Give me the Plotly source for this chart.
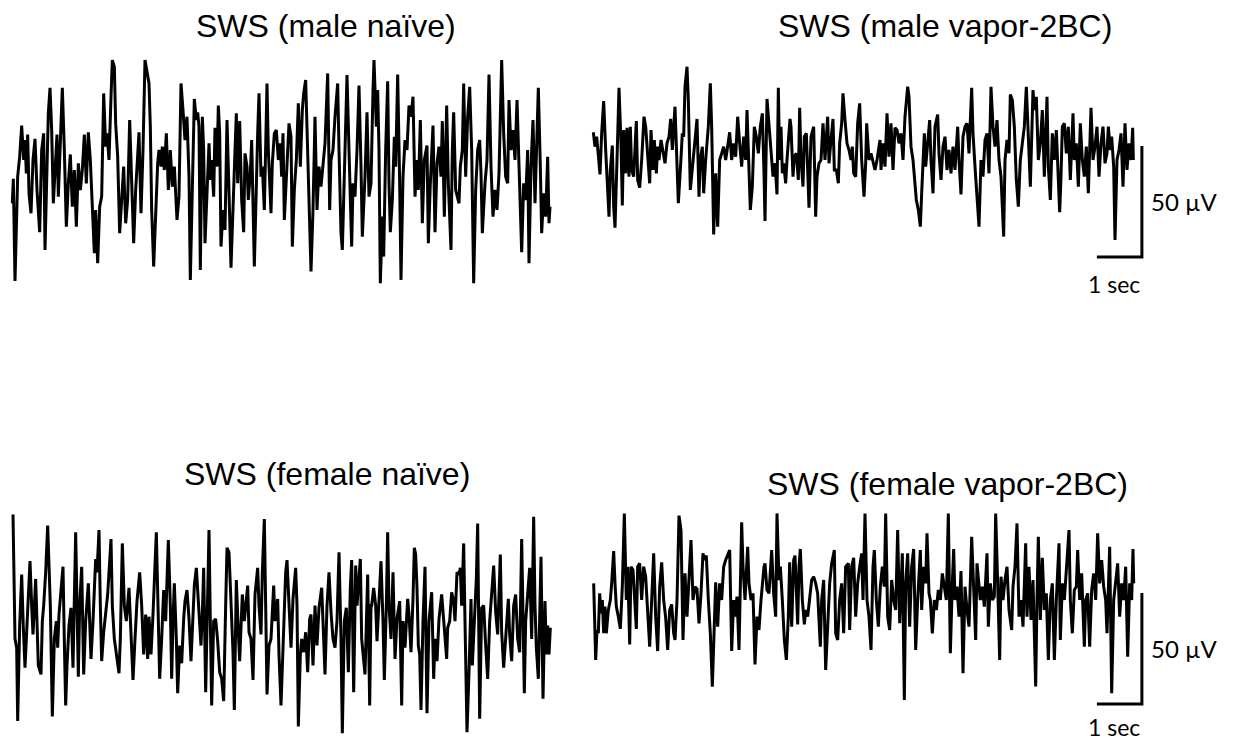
import numpy as np
import plotly.graph_objects as go

FS = 135.0

# ---------------- SWS (male naive) ----------------
male_naive_idx = [1,4,9,17,23,29,35,39,43,47,51,57,63,69,75,83,89,95,99,105,109,114,119,124,129,135,139,144,151,157,
163,169,175,181,187,193,199,205,211,217,223,229,235,241,247,251,257,263,269,275,281,285,291,297,301,307,311,317,323,329,
335,341,347,353,359,365,371,377,381,387,393,399,405,411,415,419,425,431,437,441,447,451,457,463,469,475,481,487,491,495,
501,507,513,519,525,531,535,541,547,
553,557,561,565,571,575,579,585,591,595,599,605,609,615,619,623,627,633,639,645,649,653,657,663,667,673,677,683,689,695,
699,705,709,715,719,727,731,737,741,747,751,757,765,769,777,781,787,793,799,805,809,813,817,825,831,837,841,847,853,859,
865,871,875,881,885,891,897,903,909,915,921,927,933,939,947,953,957,963,969,977,981,987,991,999,1005,1011,1019,1023,1029,1035,
1041,1047,1051,1059,1065,1071,1077,1083,1086,
1093,1097,1101,1105,1111,1115,1121,1127,1131,1135,1141,1147,1151,1157,1163,1167,1173,1179,1185,1191,1197,1203,1209,1215,1219,1225,1231,1237,1245,1249,
1255,1263,1269,1275,1281,1287,1291,1297,1304,1309,1317,1321,1325,1331,1341,1345,1351,1355,1361,1367,1373,1379,1385,1391,1397,1403,1407,1411,1419,1425,
1431,1437,1443,1449,1455,1461,1469,1475,1481,1487,1491,1497,1503,1509,1515,1519,1525,1529,1535,1541,1547,1551,1557,1563,1569,1575,1579,1585,1589,1595,
1601,1607,1611,1614]
male_naive_uv = [-15,-4,-50,-3,6,20,4.5,13.5,-1.5,16,-10.5,-19.5,4.5,14,-9,-28,9,16.5,-36,6,25.5,37,18,-15,-1.5,16,-12,10.5,37,9,
-25.5,-6,7,-16.5,0,-25.5,3,-9,0,16,-6,17,4.5,-16.5,-37.5,-18,-42,-16.5,-12,34.5,10.5,16.5,4.5,33,49.5,46.5,21,6,-28.5,-13.5,
1.5,-24,-13.5,22.5,-10.5,-33,-9,4.5,17,-19.5,9,49.5,45,39,19.5,-18,-43.5,-18,3,9,1.5,10.5,0,16.5,-9,9,-7.5,1.5,-15,-22.5,
-12,39,27,13.5,24,-3,-49.5,-3,32,
22.5,26,19.5,-45,24,9,-33,-7.5,12,-4.5,4.5,-12,19,1.5,29,16.5,-34.5,-18,-27,22.5,4.5,-21,-44,-12,0,25.5,-6,22,-13.5,-28,
7.5,1.5,-13.5,-1.5,13.5,-43.5,-13.5,16.5,34.5,-3,1.5,-18,39,9,-19.5,3,16.5,18,4.5,12,-3,16.5,-22.5,6,21,15,-34.5,-9,4.5,30,
1.5,27,34.5,40.5,19.5,-6,-45.75,-18,24,-18,1.5,-7.5,4.5,12,43.5,-18,4.5,9,24,39,9,-28.5,-36,16.5,42.75,9,-34.5,-6,-12,9,
38,1.5,-30,-3,26,-12,-6,36,49.5,
19.5,36,9,-51,-21,-39,9,40,-6,-28,-13.5,15,1.5,43,-6,-49.5,-3,13.5,9,29,24,33,-12,4.5,-9,22.5,-24,4.5,11,-33,
-6,20,-28,3,10.5,-3,22,-21,29,-6,-36,9,26,-9,-15,1.5,9,39,-3,24,37.5,9,-51,-9,9,13.5,-1.5,-28.5,-6,4.5,
43,1.5,-21,-9,-18,-1.5,49.5,16.5,-3,-6,31.5,9,18,4.5,31.5,9,-24,-37,-6,-13.5,9,-42,1.5,22.5,-15,24,37,1.5,-28.5,-10.5,
-21,6,-24,-16.5]

# ---------------- SWS (male vapor-2BC) ----------------
male_vapor_idx = [4,9,14,19,24,29,35,41,45,51,55,61,65,69,75,81,87,91,95,101,105,111,115,119,125,129,133,137,143,149,
156,161,167,173,177,183,187,193,197,201,207,213,219,225,231,236,241,249,253,259,265,271,275,279,285,289,295,301,307,315,
321,325,331,335,341,349,355,359,365,371,377,383,389,395,401,407,413,419,425,431,437,443,449,455,461,465,469,475,481,487,
493,499,505,511,516,519,525,531,537,543,
549,555,559,563,567,571,575,581,585,594,597,603,607,613,619,623,627,633,637,643,647,651,657,665,671,675,681,687,693,699,
707,711,717,723,727,733,739,743,749,753,759,765,771,777,781,785,791,797,803,809,816,821,824,831,837,843,849,855,864,867,
873,879,885,891,897,903,909,915,921,927,933,939,947,951,957,963,969,973,979,985,989,997,1001,1007,1013,1017,1023,1029,1037,1041,
1047,1053,1059,
1065,1071,1077,1083,1089,1097,1101,1107,1113,1119,1125,1131,1139,1143,1149,1155,1161,1167,1173,1179,1185,1191,1197,1203,1209,1215,1221,1227,1235,1239,
1245,1251,1255,1261,1267,1273,1279,1285,1291,1297,1303,1309,1315,1323,1327,1333,1339,1345,1351,1357,1365,1369,1375,1381,1387,1393,1403,1407,1411,1417,
1423,1429,1435,1443,1447,1453,1459,1465,1471,1477,1483,1489,1497,1503,1509,1515,1521,1527,1533,1539,1545,1549,1555,1559,1565,1569,1575,1581,1587,1593,
1599,1605,1611,1617,1622,1624]
male_vapor_uv = [8,1.5,6,-4.5,-11,7.5,22,0,-15,-30,-9,2,-25.5,-35,-4.5,28,3,-25,9,-10.5,10,-12,10.5,-9,-12,1.5,13,-13.5,-17,-4.5,
15,10.5,-1.5,-15,9,-9,4.5,-10.5,1.5,-4.5,4.5,0,-6,3,6,14,0,19.5,4.5,-24,-9,7.5,6,28.5,37.5,22.5,-18,-7.5,3,14,
-21,-4.5,1.5,-19.5,-4.5,10.5,30,10.5,-38,-10.5,-34.5,-4.5,-1.5,1.5,-4.5,3,8,-4.5,3,-3,15,3,-7.5,6,-4.5,18,-4.5,-27,-16.5,10.5,
6,-1.5,10.5,16.5,-10.5,-32,23,10.5,-1.5,-12,
-6,-20,28,-4.5,10.5,-10.5,-6,-15,-4.5,14,10.5,-12,-3,-1.5,-13.5,19,-4.5,-16.5,6,7.5,-9,-26,6,10.5,-30,-12,-6,-4.5,12,-4.5,
15,-6,4.5,14,-9,-9,-15,3,12,25.5,13.5,3,0,-4.5,1.5,-10.5,-12,12,21,-4.5,-21,-6,12,-4.5,-1.5,-6,-9,-4.5,4.5,-9,
3,-7.5,16.5,-3,12,-9,10,9,3,7.5,-4.5,15,28.5,24,1.5,-4.5,-13.5,-22.5,-27,-34.5,-19.5,7.5,-7.5,4.5,13.5,-4.5,-19.5,10.5,16,-1.5,
-13.5,1.5,6,
-9,0,-10.5,1.5,-9,10.5,-4.5,-20,6,10.5,12,-1.5,28,7.5,-7.5,-24,-34.5,-4.5,-12,4.5,7.5,-10.5,28.5,10.5,1.5,13.5,-4.5,-12,-39,-4.5,
4.5,-1.5,25,22.5,10.5,-13.5,-25.5,-4.5,3,10.5,28.5,3,-16.5,27,18,24,-4.5,3,18,-12,24,-7.5,-22.5,7.5,-4.5,9,-28,-12,10.5,12,
-1.5,10.5,-13.5,16.5,-4.5,3,-16.5,12,-4.5,-12,1.5,-19.5,19,-4.5,1.5,10.5,-12,3,10.5,-6,-1.5,10.5,0,6,-7.5,-40.5,-4.5,0,7.5,-16.5,
12,-9,3,-4.5,10,-4.5]

# ---------------- SWS (female naive) ----------------
female_naive_idx = [3,9,14,17,23,29,34,39,43,47,54,59,63,71,75,79,87,91,95,101,107,111,115,121,127,133,137,141,153,157,
161,165,171,177,183,191,195,199,203,209,215,221,229,237,243,251,255,261,265,269,275,283,287,297,301,307,313,321,325,331,
337,343,351,357,363,369,375,383,389,395,401,407,411,417,423,433,439,443,449,455,461,469,475,479,483,487,493,497,503,509,
515,519,525,531,537,543,547,
553,559,567,571,575,581,587,591,595,599,605,611,617,623,629,635,641,645,651,657,663,667,673,679,683,691,697,707,711,717,
723,729,737,741,747,751,757,761,765,771,777,785,789,797,801,807,813,821,825,831,837,843,851,855,859,865,869,875,881,887,
893,897,903,909,915,921,929,935,939,945,951,957,963,969,975,981,987,991,997,1003,1009,1015,1019,1025,1031,1035,1045,1049,1059,1067,
1073,1077,
1079,1085,1091,1095,1101,1107,1113,1117,1123,1127,1131,1137,1143,1149,1155,1163,1169,1173,1179,1187,1191,1197,1203,1207,1211,1215,1219,1223,1227,1233,
1239,1245,1251,1259,1265,1269,1275,1281,1289,1295,1304,1307,1313,1319,1325,1329,1335,1341,1345,1349,1355,1359,1365,1371,1377,1381,1387,1393,1397,1403,
1409,1415,1421,1427,1433,1441,1445,1451,1457,1465,1469,1475,1481,1489,1493,1499,1505,1511,1517,1523,1529,1537,1541,1547,1553,1559,1565,1569,1573,1579,
1587,1593,1599,1603,1607,1611,1615]
female_naive_uv = [52,-4,-8,-41,2,25,1,-17,-4,7,31,11,-2,23,7,-16,-20,4,11,26,47,26,11,-39,-4,4,-8,7,28.5,-5,
-34,-16,2,10,-17,44,11,-21,11,28.5,-20,4,21,-13,4,32,26,45,11,-14,-1,11,16,41,11,-4,-10,-19.5,-4,39,
11,4,19,-4,-22.5,-4,13,26,11,-11,7,-13,6,-11,7,44,11,-22,-4,18,4,40.5,11,-22,4,21,-4,-28.5,-7,-15,
5,13,18,5,-14,11,20,
28,11,-7,7,28,-28,11,45,4,-34,4,5,-5,-19,-22,-32,11,37,35,11,-10,-36,22.5,-1,-14,16,4,20,-1,-4,
-22.5,16,28,11,-2,26,50,11,-29,-7,-4,20,4,14,-11,-34,-4,26,31.5,8,-8,14,28,11,-43.5,-11,-4,-10,-1,-19,
5,7,-16,11,-7,10,19,-4,-20,11,26,8,-4,-8,4,35,-4,-46.5,4,10,-19,19,31.5,-28,29,11,32,-4,-20,25,
-34,11,
11,19,11,-5,11,31,4,-22.5,11,44,11,-4,26,-13,5,13,-34,4,-8,14,7,-10,14,37,34,19,-7,-11,-36,4,
28.5,-37.5,4,17,-22,-4,-14,5,16,4,-13,1,4,17,13,4,26,25,28,11,39,4,-46,-19,14,-16,4,23,48,-40,
10,11,-7,-22,4,23,29,8,-2,34,-1,-17,-4,14,-2,-14,11,16,-4,-10,41,-28.5,4,16,28,-4,51,11,-8,-22,
33,-31,13,-11,2,-11,1]

# ---------------- SWS (female vapor-2BC) ----------------
female_vapor_idx = [5,11,15,19,23,27,31,35,39,43,49,55,59,65,69,73,79,85,91,97,103,107,113,117,123,129,133,137,143,149,
155,161,167,173,179,185,191,197,203,209,215,221,227,233,239,245,249,255,261,267,273,279,285,291,297,303,309,315,321,327,
333,337,343,349,355,361,367,371,377,383,389,395,401,409,413,419,425,429,435,441,449,453,459,467,471,477,483,489,495,501,
507,516,519,525,531,539,543,
545,551,555,561,565,571,577,583,589,593,599,605,609,617,621,625,631,637,641,647,653,659,665,671,677,685,689,695,701,707,
713,719,727,731,737,743,749,755,761,769,773,779,785,791,797,803,809,813,819,825,831,837,843,847,853,859,865,871,877,881,
887,893,899,905,911,917,923,931,937,941,947,953,959,965,971,977,985,989,995,1001,1005,1011,1015,1021,1027,1033,1039,1045,1051,1057,
1063,1069,1075,1081,1085,
1089,1095,1101,1107,1113,1119,1125,1131,1139,1143,1151,1155,1159,1165,1171,1177,1185,1189,1195,1201,1207,1211,1217,1223,1227,1233,1239,1245,1251,1259,
1263,1269,1275,1281,1287,1293,1301,1305,1311,1317,1323,1331,1335,1339,1345,1351,1357,1363,1369,1375,1381,1387,1393,1401,1405,1411,1417,1423,1431,1435,
1441,1447,1453,1457,1463,1469,1477,1481,1487,1493,1499,1505,1511,1517,1523,1529,1535,1541,1545,1553,1559,1565,1571,1577,1583,1589,1595,1601,1607,1613,
1619,1623,1625]
female_vapor_uv = [7.5,-27,-13.5,-15,3,-6,0,-15,-3,-15,-4.5,0,7.5,22,7.5,-3,-7.5,-13,6,39,0,15,-20,15,13.5,-4.5,-13,15,16.5,0,
15,10.5,-4.5,-21,0,21,-7.5,-23,6,17,0,-8,-22.5,-4.5,-2,-15,-18,0,38,31.5,-18,12,-7.5,7.5,27,0,6,5,-10.5,3,
21,18,20,0,-15,-39,-7.5,8,-12,7.5,0,15,18,21,22.5,-23,0,-7.5,1.5,-22.5,35,15,0,24,7.5,0,3,-29,-7.5,-13.5,
0,15,16.5,4.5,3,22.5,7.5,
3,-7.5,39,9,15,0,-18,-27,-7.5,17,-12,18,20,-11,15,23,0,-11,-4.5,-7.5,0,9,10.5,7.5,3,-21,0,9,-31.5,-15,
7.5,16.5,22.5,-15,-18,0,7.5,-15,15,16.5,-13.5,15,19,-7.5,7.5,15,21,0,39,0,-7.5,-22.5,15,22.5,0,-12,6,15,6,39,
-7.5,-13.5,9,0,-4.5,31.5,-10.5,21,-45,7.5,21,-12,15,23,-22.5,0,22.5,-4.5,15,7.5,30,3,0,-15,0,-4.5,4.5,0,12,6,
0,39,-24,7.5,23,
0,6,-7.5,13,-33,6,-4.5,-12,28.5,15,-18,16.5,9,0,6,-3,21,-12,7.5,0,1.5,39,7.5,-27,10.5,0,9,15,-4.5,-13.5,
6,15,34.5,-7.5,0,-12,25.5,-7.5,15,-9,9,-39,0,28.5,-9,19,-4.5,3,-27,0,7.5,-27,0,25.5,-18,7.5,0,12,31.5,0,
-15,4.5,6,22.5,0,12,-21,0,3,-21,4.5,12,0,30,7.5,18,6,0,-15,24,-42,0,9,16.5,-7.5,7.5,0,15,-25.5,7.5,
0,23,7.5]

titles = ["SWS (male naïve)", "SWS (male vapor-2BC)", "SWS (female naïve)", "SWS (female vapor-2BC)"]
SCALE_SEC = 1.0
SCALE_UV = 50.0

# ---------------- layout geometry (pixels) ----------------
W, H = 1238, 741
PX_PER_S = 45.0
PX_PER_UV = 2.22

panels = [
    dict(idx=male_naive_idx, uv=male_naive_uv, x0=12, base=170, xlo=0, xhi=572, ytop=40, ybot=305,
         title_x=326, title_y=26, bar=None),
    dict(idx=male_vapor_idx, uv=male_vapor_uv, x0=592, base=150, xlo=574, xhi=1238, ytop=40, ybot=305,
         title_x=945, title_y=26, bar=(12.22, -48.2, -12.0)),
    dict(idx=female_naive_idx, uv=female_naive_uv, x0=12, base=630, xlo=0, xhi=572, ytop=490, ybot=741,
         title_x=327, title_y=474, bar=None),
    dict(idx=female_vapor_idx, uv=female_vapor_uv, x0=592, base=600, xlo=574, xhi=1238, ytop=490, ybot=741,
         title_x=947, title_y=484, bar=(12.22, -46.8, -10.6)),
]

fig = go.Figure()
annotations = []
for k, p in enumerate(panels):
    sfx = "" if k == 0 else str(k + 1)
    n = min(len(p["idx"]), len(p["uv"]))
    t = np.asarray(p["idx"][:n], dtype=float) / FS
    v = np.asarray(p["uv"][:n], dtype=float)
    fig.add_trace(go.Scatter(x=t, y=v, mode="lines", line=dict(color="black", width=3.0),
                             xaxis="x" + sfx, yaxis="y" + sfx, hoverinfo="skip", showlegend=False))
    xr = [(p["xlo"] - p["x0"]) / PX_PER_S, (p["xhi"] - p["x0"]) / PX_PER_S]
    yr = [(p["base"] - p["ybot"]) / PX_PER_UV, (p["base"] - p["ytop"]) / PX_PER_UV]
    fig.update_layout(**{
        "xaxis" + sfx: dict(domain=[p["xlo"] / W, p["xhi"] / W], range=xr, visible=False,
                            anchor="y" + sfx, fixedrange=True),
        "yaxis" + sfx: dict(domain=[1 - p["ybot"] / H, 1 - p["ytop"] / H], range=yr, visible=False,
                            anchor="x" + sfx, fixedrange=True),
    })
    annotations.append(dict(text=titles[k], x=p["title_x"] / W, y=1 - p["title_y"] / H,
                            xref="paper", yref="paper", xanchor="center", yanchor="middle",
                            showarrow=False, font=dict(family="Liberation Sans, Arial", size=32, color="black")))
    if p["bar"] is not None:
        te, vb, lab_off = p["bar"]
        fig.add_trace(go.Scatter(x=[te - SCALE_SEC, te, te], y=[vb, vb, vb + SCALE_UV], mode="lines",
                                 line=dict(color="black", width=3), xaxis="x" + sfx, yaxis="y" + sfx,
                                 hoverinfo="skip", showlegend=False))
        annotations.append(dict(text="50 µV", x=te + 0.15, y=vb + SCALE_UV / 2, xref="x" + sfx, yref="y" + sfx,
                                xanchor="left", yanchor="middle", showarrow=False,
                                font=dict(family="Lato", size=24, color="black")))
        annotations.append(dict(text="1 sec", x=te - 0.62, y=vb + lab_off, xref="x" + sfx, yref="y" + sfx,
                                xanchor="center", yanchor="middle", showarrow=False, borderpad=0,
                                font=dict(family="Lato", size=23, color="black")))

fig.update_layout(width=W, height=H, margin=dict(l=0, r=0, t=0, b=0),
                  paper_bgcolor="white", plot_bgcolor="rgba(0,0,0,0)",
                  annotations=annotations, showlegend=False)
fig.write_html("out.html", config={"displayModeBar": False})
